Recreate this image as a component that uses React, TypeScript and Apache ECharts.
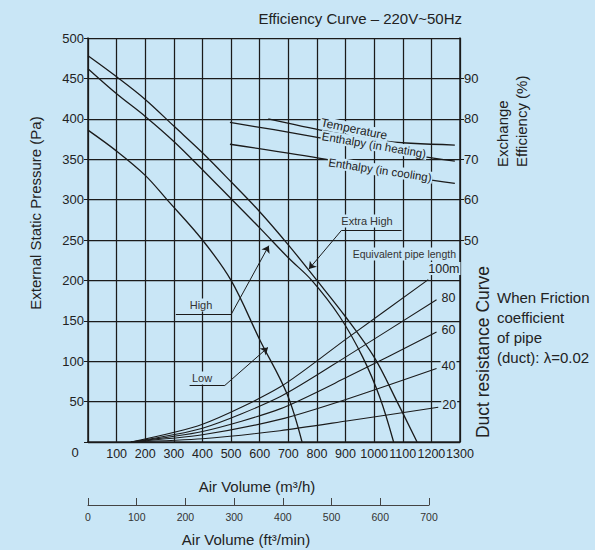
import React, { useEffect, useRef } from "react";
import * as echarts from "echarts";

// ---------- data ----------
const xTicks = [0, 100, 200, 300, 400, 500, 600, 700, 800, 900, 1000, 1100, 1200, 1300];
const pressureTicks = [0, 50, 100, 150, 200, 250, 300, 350, 400, 450, 500];
const efficiencyTicks = [50, 60, 70, 80, 90];
const cfmTicks = [0, 100, 200, 300, 400, 500, 600, 700];

// fan curves: [air volume m3/h, static pressure Pa]
const extraHigh = [[0, 478], [100, 452], [200, 424], [300, 391], [400, 358], [500, 322], [600, 285], [700, 244], [800, 200], [900, 155], [1000, 105], [1080, 50], [1150, 0]];
const high = [[0, 462], [100, 431], [200, 403], [300, 372], [400, 337], [500, 301], [600, 265], [700, 228], [782, 200], [880, 155], [960, 105], [1020, 55], [1068, 0]];
const low = [[0, 386], [100, 360], [200, 330], [276, 300], [400, 250], [500, 200], [601, 126], [695, 60], [748, 0]];

// duct resistance curves (equivalent pipe length)
const duct100 = [[150, 0], [400, 22], [671, 68], [904, 128], [1189, 201]];
const duct80 = [[150, 0], [400, 17], [671, 56], [904, 106], [1218, 176]];
const duct60 = [[150, 0], [400, 13], [671, 41], [904, 80], [1218, 136]];
const duct40 = [[150, 0], [400, 9], [671, 28], [904, 53], [1218, 91]];
const duct20 = [[150, 0], [400, 4], [671, 14], [904, 26], [1224, 43]];

// exchange efficiency curves: [air volume m3/h, efficiency %]
const temperatureEff = [[630, 80], [828, 77], [1026, 74.5], [1282, 73.5]];
const heatingEff = [[496, 79.1], [650, 77.3], [816, 75.2], [1050, 72], [1282, 69.5]];
const coolingEff = [[496, 73.7], [828, 70], [1050, 66.5], [1282, 64]];

const BG = "#c9e6f6";
const INK = "#1b1b1b";
const SANS = '"Liberation Sans", Arial, Helvetica, sans-serif';

const curveStyle = { color: INK, width: 1.3 };

function line(name: string, data: number[][], extra: any = {}) {
  return {
    type: "line",
    name,
    data,
    smooth: 0.35,
    showSymbol: false,
    symbol: "none",
    silent: true,
    lineStyle: curveStyle,
    ...extra,
  };
}

function ductLine(name: string, data: number[][], label: string, offset: number[]) {
  return line(name, data, {
    smooth: 0.25,
    lineStyle: { color: INK, width: 1.1 },
    endLabel: {
      show: true,
      formatter: label,
      offset,
      color: "#222",
      fontSize: 12.5,
      fontFamily: SANS,
      backgroundColor: BG,
      padding: [0, 1],
    },
  });
}

export default function App() {
  const ref = useRef<HTMLDivElement>(null);

  useEffect(() => {
    document.body.style.margin = "0";
    const chart = echarts.init(ref.current!, null, { renderer: "svg" });

    const arrowStyle = { color: INK, width: 1, type: "solid" as const };

    const option: any = {
      animation: false,
      backgroundColor: BG,
      grid: [
        { left: 88, top: 38, width: 372, height: 404, show: false },
        { left: 88, top: 505, width: 341, height: 0, show: false },
      ],
      xAxis: [
        {
          type: "value",
          gridIndex: 0,
          min: 0,
          max: 1300,
          interval: 100,
          axisLine: { show: true, lineStyle: { color: INK, width: 1.5 } },
          axisTick: { show: false },
          axisLabel: {
            color: "#222",
            fontSize: 12.5,
            fontFamily: SANS,
            margin: 5,
            showMaxLabel: true,
            showMinLabel: true,
            formatter: (v: number) => (v === 0 || xTicks.indexOf(v) < 0 ? "" : String(v)),
          },
          splitLine: { show: true, lineStyle: { color: INK, width: 1.25 } },
        },
        {
          type: "value",
          gridIndex: 1,
          min: 0,
          max: 700,
          interval: 100,
          position: "bottom",
          axisLine: { show: true, lineStyle: { color: "#444", width: 1 } },
          axisTick: { show: true, inside: true, length: 7, lineStyle: { color: "#444" } },
          axisLabel: {
            color: "#333",
            fontSize: 10.5,
            fontFamily: SANS,
            margin: 6,
            formatter: (v: number) => (cfmTicks.indexOf(v) >= 0 ? String(v) : ""),
          },
          splitLine: { show: false },
        },
      ],
      yAxis: [
        {
          type: "value",
          gridIndex: 0,
          min: 0,
          max: 500,
          interval: 50,
          axisLine: { show: true, lineStyle: { color: INK, width: 1.5 } },
          axisTick: { show: true, length: 4, lineStyle: { color: INK } },
          axisLabel: {
            color: "#222",
            fontSize: 13,
            fontFamily: SANS,
            margin: 4,
            formatter: (v: number) => (v === 0 || pressureTicks.indexOf(v) < 0 ? "" : String(v)),
          },
          splitLine: { show: true, lineStyle: { color: INK, width: 1.25 } },
        },
        {
          type: "value",
          gridIndex: 0,
          min: 0,
          max: 100,
          interval: 10,
          position: "right",
          axisLine: { show: true, lineStyle: { color: INK, width: 1.5 } },
          axisTick: { show: true, length: 4, customValues: efficiencyTicks, lineStyle: { color: INK } },
          axisLabel: {
            color: "#222",
            fontSize: 13,
            fontFamily: SANS,
            margin: 4,
            customValues: efficiencyTicks,
          },
          splitLine: { show: false },
        },
        {
          type: "value",
          gridIndex: 1,
          show: false,
          min: 0,
          max: 1,
        },
      ],
      series: [
        line("Extra High", extraHigh, {
          markLine: {
            silent: true,
            symbolSize: 7,
            label: { show: false },
            lineStyle: arrowStyle,
            data: [
              [{ coord: [886, 262], symbol: "none" }, { coord: [1096, 262], symbol: "none" }],
              [{ coord: [886, 262], symbol: "none" }, { coord: [772, 214], symbol: "arrow" }],
            ],
          },
        }),
        line("High", high, {
          markLine: {
            silent: true,
            symbolSize: 7,
            label: { show: false },
            lineStyle: arrowStyle,
            data: [
              [{ coord: [307, 157.7], symbol: "none" }, { coord: [500, 157.7], symbol: "none" }],
              [{ coord: [500, 157.7], symbol: "none" }, { coord: [632, 243], symbol: "arrow" }],
            ],
          },
        }),
        line("Low", low, {
          markLine: {
            silent: true,
            symbolSize: 7,
            label: { show: false },
            lineStyle: arrowStyle,
            data: [
              [{ coord: [355, 70], symbol: "none" }, { coord: [478, 70], symbol: "none" }],
              [{ coord: [478, 70], symbol: "none" }, { coord: [629, 117], symbol: "arrow" }],
            ],
          },
        }),
        ductLine("100m", duct100, "100m", [-9, -11]),
        ductLine("80", duct80, "80", [-4, -2]),
        ductLine("60", duct60, "60", [-4, -2]),
        ductLine("40", duct40, "40", [-4, -2]),
        ductLine("20", duct20, "20", [-5, -2]),
        line("Temperature", temperatureEff, { yAxisIndex: 1, smooth: 0.3 }),
        line("Enthalpy (in heating)", heatingEff, { yAxisIndex: 1, smooth: 0.3 }),
        line("Enthalpy (in cooling)", coolingEff, { yAxisIndex: 1, smooth: 0.3 }),
      ],
      graphic: [
        {
          type: "text",
          x: 462,
          y: 18,
          style: { text: "Efficiency Curve \u2013 220V~50Hz", fill: "#222", fontSize: 15, fontFamily: SANS, align: "right", verticalAlign: "middle" },
        },
        {
          type: "text",
          x: 35,
          y: 213,
          rotation: Math.PI / 2,
          style: { text: "External Static Pressure (Pa)", fill: "#222", fontSize: 15, fontFamily: SANS, align: "center", verticalAlign: "middle" },
        },
        {
          type: "text",
          x: 502,
          y: 167,
          rotation: Math.PI / 2,
          style: { text: "Exchange", fill: "#222", fontSize: 15, fontFamily: SANS, align: "left", verticalAlign: "middle" },
        },
        {
          type: "text",
          x: 521,
          y: 167,
          rotation: Math.PI / 2,
          style: { text: "Efficiency (%)", fill: "#222", fontSize: 15, fontFamily: SANS, align: "left", verticalAlign: "middle" },
        },
        {
          type: "text",
          x: 483,
          y: 352,
          rotation: Math.PI / 2,
          style: { text: "Duct resistance Curve", fill: "#222", fontSize: 17.5, fontFamily: SANS, align: "center", verticalAlign: "middle" },
        },
        {
          type: "text",
          x: 497,
          y: 327,
          style: {
            text: "When Friction\ncoefficient\nof pipe\n(duct): \u03bb=0.02",
            fill: "#222",
            fontSize: 15,
            lineHeight: 20,
            fontFamily: SANS,
            align: "left",
            verticalAlign: "middle",
          },
        },
        {
          type: "text",
          x: 75,
          y: 452,
          style: { text: "0", fill: "#222", fontSize: 13, fontFamily: SANS, align: "center", verticalAlign: "middle" },
        },
        {
          type: "text",
          x: 257,
          y: 486,
          style: { text: "Air Volume (m\u00b3/h)", fill: "#222", fontSize: 15, fontFamily: SANS, align: "center", verticalAlign: "middle" },
        },
        {
          type: "text",
          x: 246,
          y: 539,
          style: { text: "Air Volume (ft\u00b3/min)", fill: "#222", fontSize: 15, fontFamily: SANS, align: "center", verticalAlign: "middle" },
        },
        // curve labels
        {
          type: "text",
          x: 201,
          y: 305,
          z: 10,
          style: { text: "High", fill: "#333", fontSize: 11, fontFamily: SANS, align: "center", verticalAlign: "middle", backgroundColor: BG, padding: [1, 2] },
        },
        {
          type: "text",
          x: 202,
          y: 378,
          z: 10,
          style: { text: "Low", fill: "#333", fontSize: 11, fontFamily: SANS, align: "center", verticalAlign: "middle", backgroundColor: BG, padding: [1, 2] },
        },
        {
          type: "text",
          x: 367,
          y: 221,
          z: 10,
          style: { text: "Extra High", fill: "#333", fontSize: 11, fontFamily: SANS, align: "center", verticalAlign: "middle", backgroundColor: BG, padding: [1, 2] },
        },
        {
          type: "text",
          x: 457,
          y: 254,
          z: 10,
          style: { text: "Equivalent pipe length", fill: "#333", fontSize: 10.5, fontFamily: SANS, align: "right", verticalAlign: "middle", backgroundColor: BG, padding: [1, 1] },
        },
        {
          type: "text",
          x: 354,
          y: 129,
          rotation: -0.2,
          z: 10,
          style: { text: "Temperature", fill: "#222", fontSize: 12, fontFamily: SANS, align: "center", verticalAlign: "middle", backgroundColor: BG, padding: [0, 1] },
        },
        {
          type: "text",
          x: 374,
          y: 145,
          rotation: -0.17,
          z: 10,
          style: { text: "Enthalpy (in heating)", fill: "#222", fontSize: 11.5, fontFamily: SANS, align: "center", verticalAlign: "middle", backgroundColor: BG, padding: [0, 1] },
        },
        {
          type: "text",
          x: 380,
          y: 170,
          rotation: -0.15,
          z: 10,
          style: { text: "Enthalpy (in cooling)", fill: "#222", fontSize: 11.5, fontFamily: SANS, align: "center", verticalAlign: "middle", backgroundColor: BG, padding: [0, 1] },
        },
      ],
    };

    chart.setOption(option);
    return () => chart.dispose();
  }, []);

  return (
    <div
      ref={ref}
      style={{ position: "fixed", left: 0, top: 0, width: 595, height: 550 }}
    />
  );
}
